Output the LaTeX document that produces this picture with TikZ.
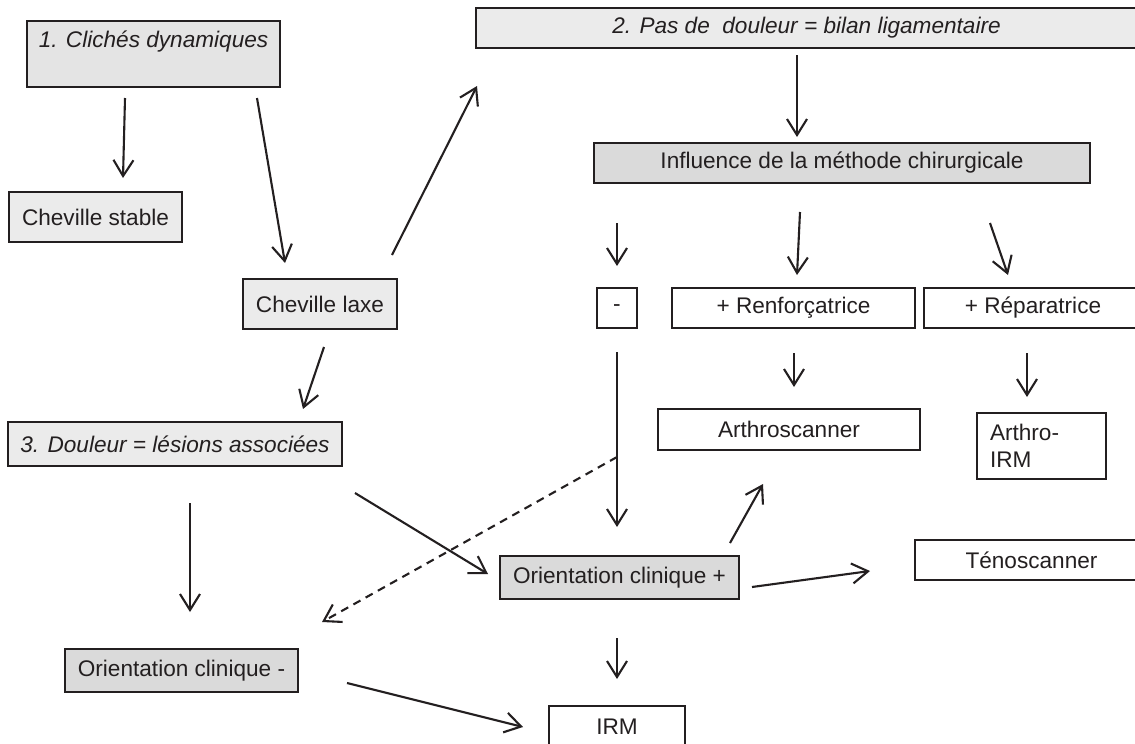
\documentclass[tikz,border=0pt]{standalone}
\usepackage{fontspec}
\setmainfont{Liberation Sans}
\usetikzlibrary{arrows.meta}
\definecolor{ink}{HTML}{231F20}
\definecolor{gA}{gray}{0.92}
\definecolor{gB}{gray}{0.895}
\definecolor{gC}{gray}{0.855}
\newcommand{\bxfont}{\fontsize{11.3}{13.2}\selectfont}
\tikzset{
  box/.style={draw=ink, line width=1.1pt, rectangle, inner sep=0pt, text=ink,
    font=\bxfont},
  wbox/.style={box, fill=white},
  lbox/.style={box, fill=gA},
  mbox/.style={box, fill=gB},
  dbox/.style={box, fill=gC},
  arr/.style={draw=ink, line width=1.05pt, -{Straight Barb[length=8pt,width=10pt,line width=1.05pt]}},
  darr/.style={arr, dash pattern=on 4pt off 3pt},
}
\begin{document}
\begin{tikzpicture}[x=0.5pt,y=-0.5pt]
\useasboundingbox (0,0) rectangle (1135,744);
\clip (0,0) rectangle (1135,744);
\fill[white] (0,0) rectangle (1135,744);
% nodes
\node[mbox, minimum width=126.5pt, minimum height=33pt,
  label={[font=\bxfont\itshape, text=ink, anchor=center, yshift=6pt]center:1. Clichés dynamiques}]
  (c1) at (153.5,54) {};
\node[lbox, minimum width=86.5pt, minimum height=25pt] (cs) at (95.5,217) {Cheville stable};
\node[lbox, minimum width=77pt, minimum height=25pt] (cl) at (320,304) {Cheville laxe};
\node[lbox, minimum width=330.5pt, minimum height=20pt, font=\bxfont\itshape] (b2) at (806.5,28) {2. Pas de\ \ douleur = bilan ligamentaire};
\node[dbox, minimum width=248pt, minimum height=20pt] (infl) at (842,163) {Influence de la méthode chirurgicale};
\node[wbox, minimum width=20pt, minimum height=20pt] (minus) at (617,308) {-};
\node[wbox, minimum width=121.5pt, minimum height=20pt] (renf) at (793.5,308) {+ Renforçatrice};
\node[wbox, minimum width=109pt, minimum height=20pt] (repa) at (1033,308) {+ Réparatrice};
\node[wbox, minimum width=131pt, minimum height=20.5pt] (arths) at (789,429.5) {Arthroscanner};
\node[wbox, minimum width=64.5pt, minimum height=33pt, text width=51.5pt, inner xsep=6.5pt, align=left] (airm) at (1041.5,446) {Arthro-\\IRM};
\node[lbox, minimum width=167pt, minimum height=22pt, font=\bxfont\itshape] (doul) at (175,444) {3. Douleur = lésions associées};
\node[dbox, minimum width=119.5pt, minimum height=21.5pt] (orp) at (619.5,577.5) {Orientation clinique +};
\node[wbox, minimum width=116.5pt, minimum height=20pt] (teno) at (1031.5,560) {Ténoscanner};
\node[dbox, minimum width=116.5pt, minimum height=21.5pt] (orm) at (181.5,670.5) {Orientation clinique -};
\node[wbox, minimum width=68pt, minimum height=21pt] (irm) at (617,727) {IRM};
% connector end points
\coordinate (a1s) at (125,98);   \coordinate (a1e) at (123,178);
\coordinate (a2s) at (257,98);   \coordinate (a2e) at (285,263);
\coordinate (a3s) at (392,255);  \coordinate (a3e) at (477,86);
\coordinate (a4s) at (797,55);   \coordinate (a4e) at (797,137);
\coordinate (a5s) at (617,223);  \coordinate (a5e) at (617,266);
\coordinate (a6s) at (800,212);  \coordinate (a6e) at (797,275);
\coordinate (a7s) at (990,223);  \coordinate (a7e) at (1008,275);
\coordinate (a8s) at (794,353);  \coordinate (a8e) at (794,387);
\coordinate (a9s) at (1027,353); \coordinate (a9e) at (1027,397);
\coordinate (a10s) at (324,347); \coordinate (a10e) at (303,409);
\coordinate (a11s) at (617,352); \coordinate (a11e) at (617,527);
\coordinate (dj) at (617,457);   \coordinate (d1e) at (322,622);
\coordinate (a12s) at (190,503); \coordinate (a12e) at (190,612);
\coordinate (a13s) at (355,493); \coordinate (a13e) at (488,574);
\coordinate (a14s) at (730,543); \coordinate (a14e) at (763,484);
\coordinate (a15s) at (752,587); \coordinate (a15e) at (870,571);
\coordinate (a16s) at (617,638); \coordinate (a16e) at (617,679);
\coordinate (a17s) at (347,683); \coordinate (a17e) at (523,727);
% connectors
\draw[arr] (a1s) -- (a1e);
\draw[arr] (a2s) -- (a2e);
\draw[arr] (a3s) -- (a3e);
\draw[arr] (a4s) -- (a4e);
\draw[arr] (a5s) -- (a5e);
\draw[arr] (a6s) -- (a6e);
\draw[arr] (a7s) -- (a7e);
\draw[arr] (a8s) -- (a8e);
\draw[arr] (a9s) -- (a9e);
\draw[arr] (a10s) -- (a10e);
\draw[arr] (a11s) -- (a11e);
\draw[darr] (dj) -- (d1e);
\draw[arr] (a12s) -- (a12e);
\draw[arr] (a13s) -- (a13e);
\draw[arr] (a14s) -- (a14e);
\draw[arr] (a15s) -- (a15e);
\draw[arr] (a16s) -- (a16e);
\draw[arr] (a17s) -- (a17e);
\end{tikzpicture}
\end{document}
